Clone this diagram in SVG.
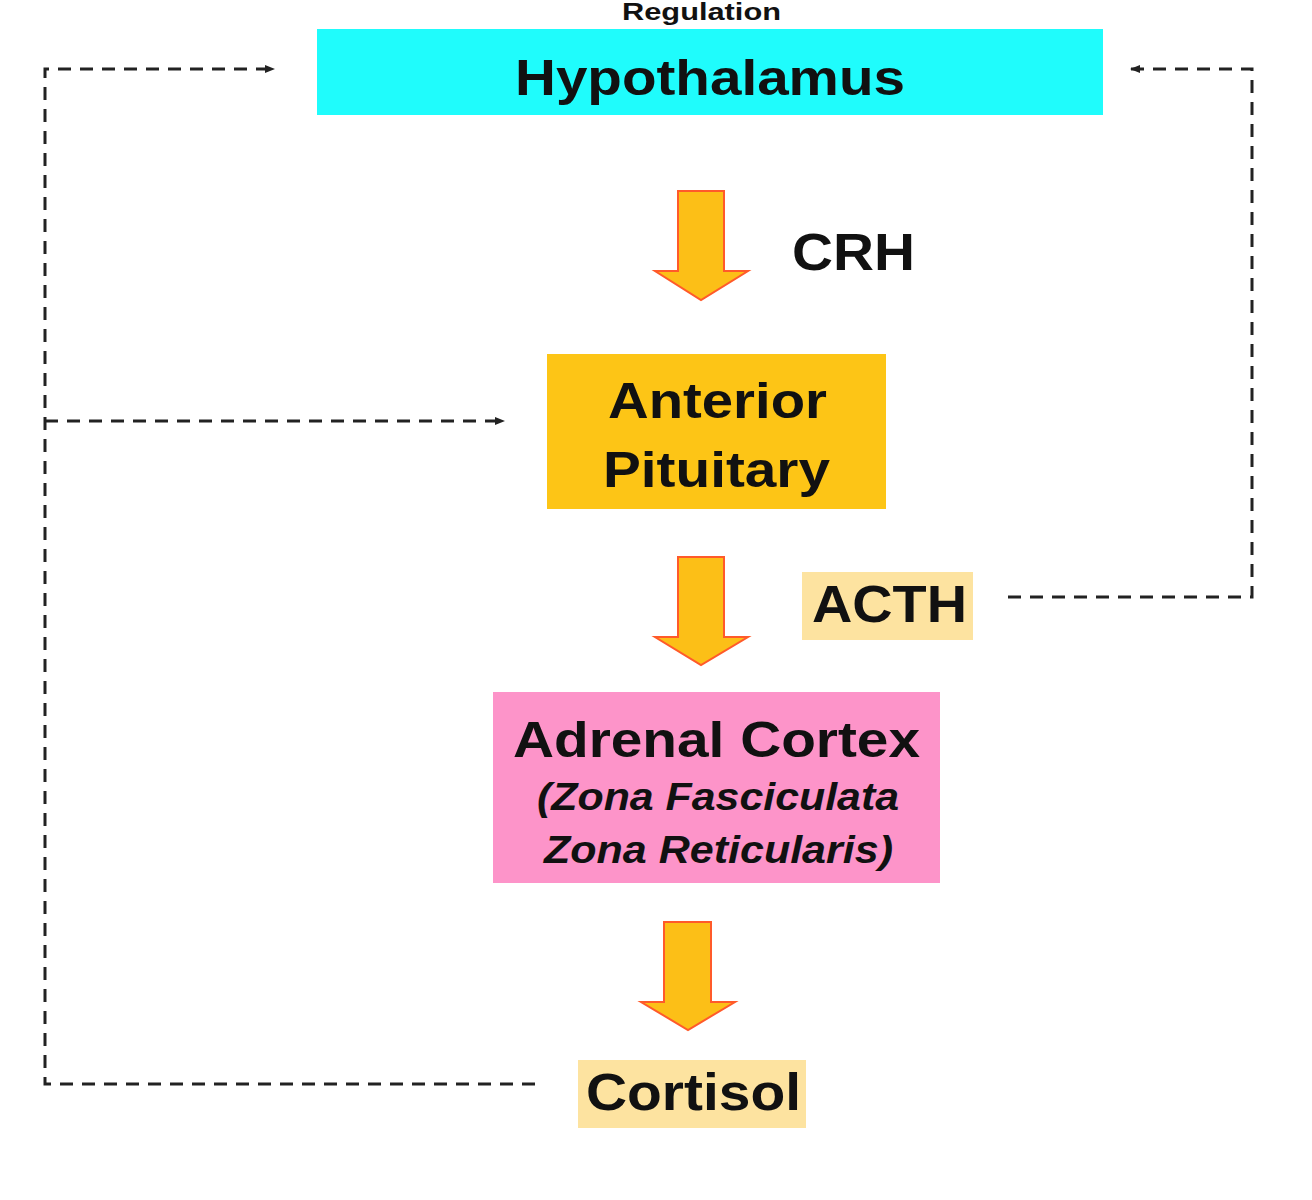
<svg xmlns="http://www.w3.org/2000/svg" width="1312" height="1200" viewBox="0 0 1312 1200">
<style>
text{font-family:"Liberation Sans",Arial,sans-serif;font-weight:bold;fill:#111}
.d{fill:none;stroke:#222;stroke-width:3;stroke-dasharray:13 9}
.ar{fill:#fcbf17;stroke:#ff5a2a;stroke-width:2}
</style>
<defs><marker id="m" markerWidth="10" markerHeight="10" refX="9" refY="5" orient="auto" markerUnits="userSpaceOnUse"><path d="M0,1 L10,5 L0,9 Z" fill="#222"/></marker></defs>
<rect width="1312" height="1200" fill="#fff"/>
<g id="title"><text x="622" y="20" font-size="24" textLength="159" lengthAdjust="spacingAndGlyphs">Regulation</text></g>
<g id="hypothalamus"><rect x="317" y="29" width="786" height="86" fill="#1ffcfc"/><text x="515" y="95" font-size="50" textLength="390" lengthAdjust="spacingAndGlyphs">Hypothalamus</text></g>
<g id="pituitary"><rect x="547" y="354" width="339" height="155" fill="#fdc516"/><text x="608" y="418" font-size="50" textLength="219" lengthAdjust="spacingAndGlyphs">Anterior</text><text x="603" y="487" font-size="50" textLength="227" lengthAdjust="spacingAndGlyphs">Pituitary</text></g>
<g id="adrenal"><rect x="493" y="692" width="447" height="191" fill="#fd94c9"/><text x="513" y="757" font-size="50" textLength="407" lengthAdjust="spacingAndGlyphs">Adrenal Cortex</text><text x="537" y="810" font-size="38" font-style="italic" textLength="362" lengthAdjust="spacingAndGlyphs">(Zona Fasciculata</text><text x="544" y="863" font-size="38" font-style="italic" textLength="349" lengthAdjust="spacingAndGlyphs">Zona Reticularis)</text></g>
<g id="crh"><text x="792" y="270" font-size="52" textLength="123" lengthAdjust="spacingAndGlyphs">CRH</text></g>
<g id="acth"><rect x="802" y="572" width="171" height="68" fill="#fde3a0"/><text x="812" y="622" font-size="52" textLength="155" lengthAdjust="spacingAndGlyphs">ACTH</text></g>
<g id="cortisol"><rect x="578" y="1060" width="228" height="68" fill="#fde3a0"/><text x="586" y="1110" font-size="52" textLength="215" lengthAdjust="spacingAndGlyphs">Cortisol</text></g>
<g id="connectors">
<path class="ar" d="M678,191 H724 V271 H748 L701,300 L655,271 H678 Z"/>
<path class="ar" d="M678,557 H724 V637 H748 L701,665 L655,637 H678 Z"/>
<path class="ar" d="M664,922 H711 V1002 H735 L688,1030 L641,1002 H664 Z"/>
<path class="d" d="M535,1084 H45 V69 H274" marker-end="url(#m)"/>
<path class="d" d="M45,421 H504" marker-end="url(#m)"/>
<path class="d" d="M1008,597 H1252 V69 H1131" marker-end="url(#m)"/>
</g>
</svg>
